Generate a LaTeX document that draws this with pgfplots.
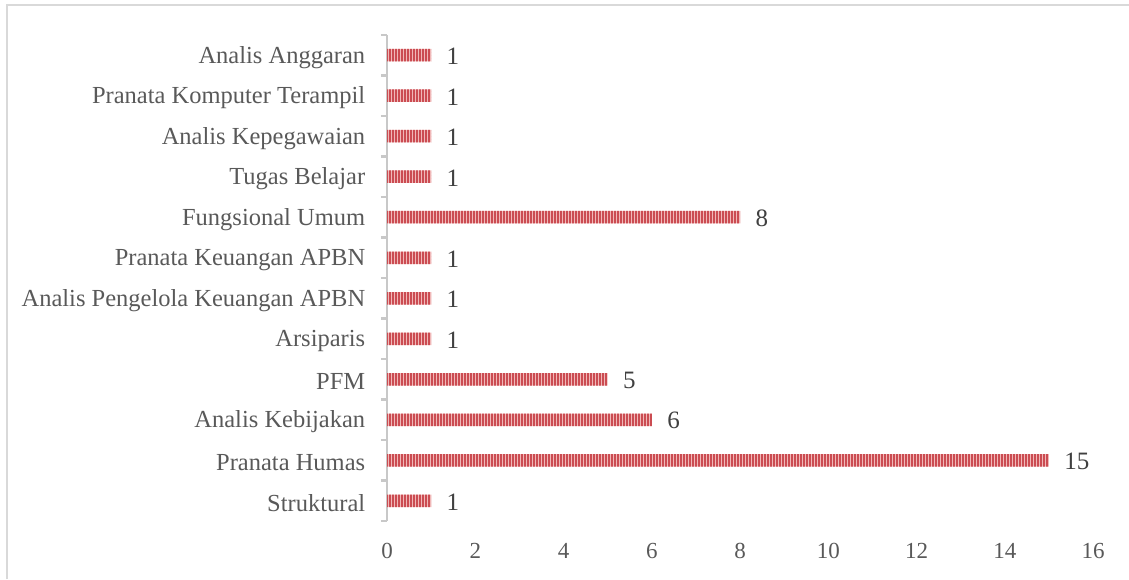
\documentclass[border=0pt]{standalone}
\usepackage{fontspec}
\setmainfont{Liberation Serif}
\usepackage{pgfplots}
\pgfplotsset{compat=1.18}
\usetikzlibrary{patterns.meta}
\definecolor{barfill}{RGB}{240,184,184}
\definecolor{barline}{RGB}{203,76,82}
\definecolor{axgray}{RGB}{200,200,200}
\definecolor{txtgray}{RGB}{89,89,89}
\definecolor{lblgray}{RGB}{64,64,64}
\definecolor{bordergray}{RGB}{217,217,217}
\begin{document}
\begin{tikzpicture}
\path[use as bounding box] (0pt,0pt) rectangle (1129pt,579pt);
\draw[bordergray, line width=1.5pt] (7pt,0pt) -- (7pt,574pt) -- (1129pt,574pt);
\begin{axis}[
  at={(387pt,58pt)}, anchor=south west,
  scale only axis, width=706pt, height=486pt,
  xmin=0, xmax=16, ymin=-0.5, ymax=11.5,
  xbar, bar width=12.5pt,
  axis y line*=left, axis x line*=bottom,
  x axis line style={draw=none},
  y axis line style={axgray, line width=2.5pt},
  xtick={0,2,...,16},
  xtick style={draw=none},
  xticklabel style={font=\fontsize{23}{25}\selectfont, text=txtgray, yshift=-19pt},
  ytick={0,...,11},
  yticklabels={Struktural,Pranata Humas,Analis Kebijakan,PFM,Arsiparis,Analis Pengelola Keuangan APBN,Pranata Keuangan APBN,Fungsional Umum,Tugas Belajar,Analis Kepegawaian,Pranata Komputer Terampil,Analis Anggaran},
  ytick style={draw=none},
  yticklabel style={font=\fontsize{24.5}{26}\selectfont, text=txtgray, xshift=-14pt, yshift=-2pt},
  extra y ticks={-0.5,0.5,...,11.5},
  extra y tick labels={},
  extra y tick style={ytick style={draw=axgray, line width=2.5pt}, major tick length=6pt, tick align=outside},
  /pgf/number format/assume math mode=true,
  nodes near coords,
  every node near coord/.append style={font=\fontsize{25}{27}\selectfont, text=lblgray, xshift=12pt, yshift=-1pt},
  clip=false,
]
\addplot[draw=none, fill=barfill,
  postaction={pattern={Lines[angle=90,distance=3pt,line width=1.9pt]}, pattern color=barline}]
  coordinates {(1,0) (15,1) (6,2) (5,3) (1,4) (1,5) (1,6) (8,7) (1,8) (1,9) (1,10) (1,11)};
\end{axis}
\end{tikzpicture}
\end{document}
